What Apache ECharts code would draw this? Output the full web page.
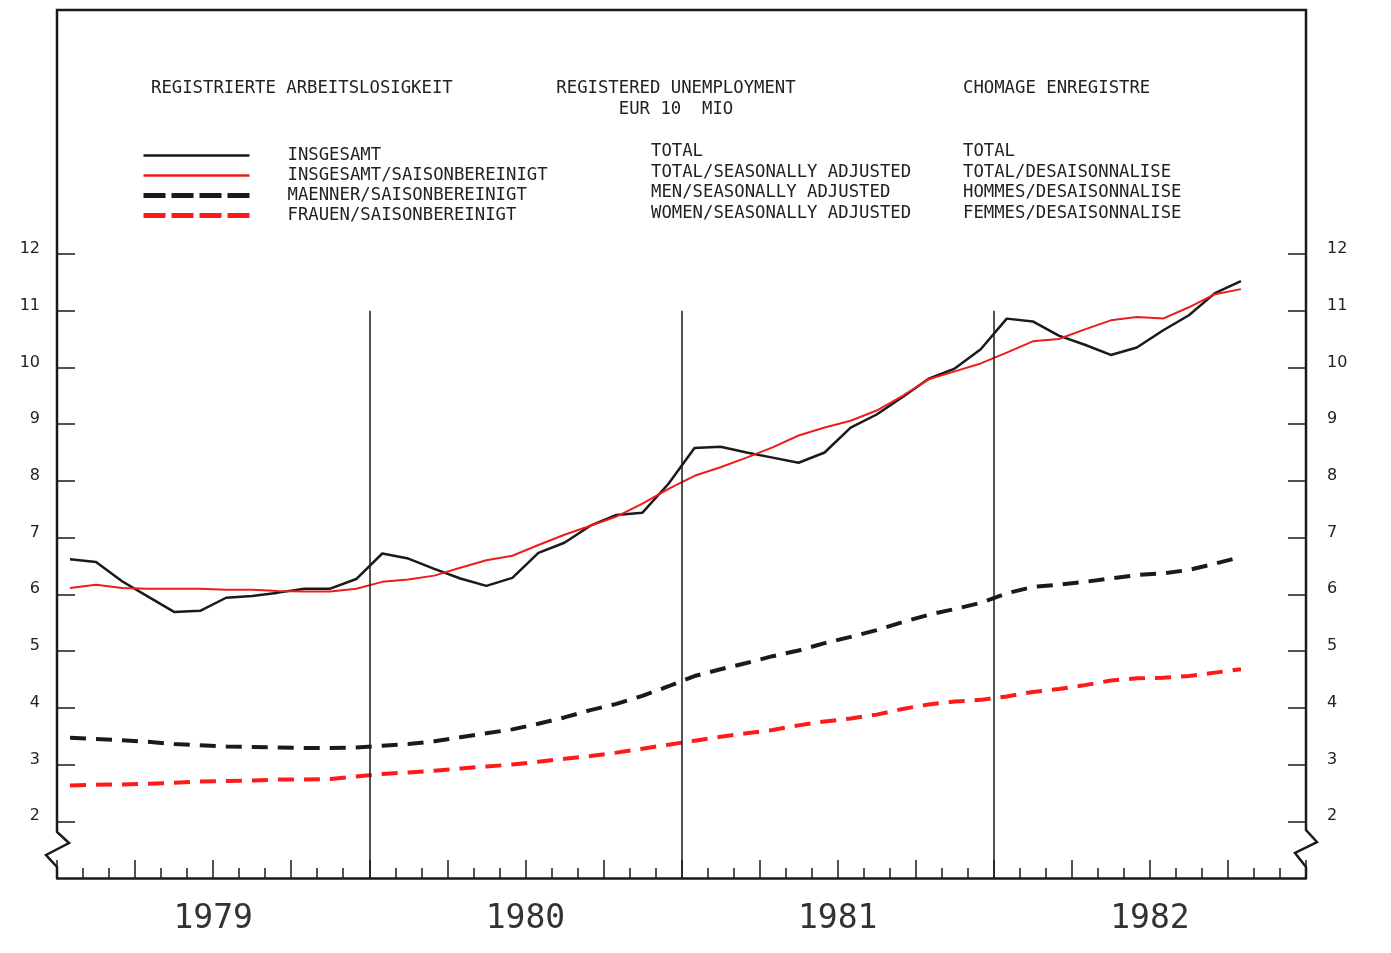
<!DOCTYPE html>
<html>
<head>
<meta charset="utf-8">
<script src="https://cdn.jsdelivr.net/npm/echarts@6/dist/echarts.min.js"></script>
<style>
  html, body { margin: 0; padding: 0; background: #fff; }
  #chart { width: 1391px; height: 953px; }
</style>
</head>
<body>
<div id="chart"></div>
<script>
// Registered unemployment EUR 10, monthly Jan 1979 – Oct 1982 (millions)

const yearLabels = ['1979', '1980', '1981', '1982'];
const yearBoundaries = [12, 24, 36];   // month index where a new year starts
const yTicks = [2, 3, 4, 5, 6, 7, 8, 9, 10, 11, 12];

const total = [6.62, 6.57, 6.23, 5.96, 5.69, 5.71, 5.94, 5.97, 6.03, 6.10, 6.10, 6.27,
  6.72, 6.63, 6.45, 6.28, 6.15, 6.29, 6.73, 6.91, 7.21, 7.40, 7.44, 7.95,
  8.58, 8.60, 8.50, 8.41, 8.32, 8.50, 8.94, 9.17, 9.48, 9.80, 9.98, 10.32,
  10.86, 10.81, 10.56, 10.40, 10.22, 10.35, 10.65, 10.92, 11.31, 11.52];

const totalSa = [6.11, 6.17, 6.11, 6.10, 6.10, 6.10, 6.08, 6.08, 6.06, 6.05, 6.05, 6.10,
  6.22, 6.26, 6.33, 6.47, 6.60, 6.68, 6.87, 7.05, 7.21, 7.37, 7.60, 7.86,
  8.09, 8.24, 8.41, 8.59, 8.80, 8.94, 9.06, 9.24, 9.50, 9.79, 9.93, 10.07,
  10.26, 10.46, 10.50, 10.67, 10.83, 10.89, 10.86, 11.06, 11.29, 11.38];

const menSa = [3.47, 3.45, 3.43, 3.40, 3.36, 3.34, 3.32, 3.31, 3.30, 3.29, 3.29, 3.30,
  3.33, 3.36, 3.41, 3.48, 3.55, 3.62, 3.72, 3.83, 3.96, 4.07, 4.21, 4.38,
  4.56, 4.68, 4.79, 4.91, 5.01, 5.14, 5.25, 5.37, 5.51, 5.64, 5.74, 5.85,
  6.02, 6.13, 6.17, 6.22, 6.28, 6.34, 6.37, 6.43, 6.54, 6.66];

const womenSa = [2.63, 2.645, 2.65, 2.66, 2.68, 2.70, 2.71, 2.72, 2.735, 2.735, 2.745, 2.79,
  2.835, 2.86, 2.89, 2.93, 2.965, 3.00, 3.05, 3.10, 3.15, 3.21, 3.28, 3.35,
  3.42, 3.49, 3.55, 3.61, 3.69, 3.76, 3.81, 3.88, 3.98, 4.06, 4.11, 4.14,
  4.20, 4.28, 4.33, 4.40, 4.48, 4.52, 4.53, 4.56, 4.62, 4.68];

const namesDe = ['INSGESAMT', 'INSGESAMT/SAISONBEREINIGT', 'MAENNER/SAISONBEREINIGT', 'FRAUEN/SAISONBEREINIGT'];
const namesEn = ['TOTAL', 'TOTAL/SEASONALLY ADJUSTED', 'MEN/SEASONALLY ADJUSTED', 'WOMEN/SEASONALLY ADJUSTED'];
const namesFr = ['TOTAL', 'TOTAL/DESAISONNALISE', 'HOMMES/DESAISONNALISE', 'FEMMES/DESAISONNALISE'];

// month centres on a 0..48 value axis
const pts = (arr) => arr.map((v, i) => [i + 0.5, v]);

const INK = '#1a1a1a';
const RED = '#ee1c1c';
const RED2 = '#ff1a1a';
const FONT = '"DejaVu Sans Mono", monospace';

const text = (t, x, y, align) => ({
  type: 'text', silent: true,
  style: { text: t, x, y, align: align || 'left', verticalAlign: 'middle',
    fill: '#222', font: '17.3px ' + FONT }
});

const rowsY = [152, 173, 193, 214];

const graphics = [
  { type: 'polyline', silent: true,
    shape: { points: [[57, 878], [57, 867], [46, 855], [69, 843], [57, 832], [57, 10],
      [1306, 10], [1306, 830], [1317, 842], [1295, 853], [1306, 867], [1306, 878]] },
    style: { stroke: INK, lineWidth: 2.5, fill: null } },
  text('REGISTRIERTE ARBEITSLOSIGKEIT', 151, 89),
  text('REGISTERED UNEMPLOYMENT', 676, 89, 'center'),
  text('EUR 10  MIO', 676, 110, 'center'),
  text('CHOMAGE ENREGISTRE', 963, 89),
  ...namesEn.map((t, i) => text(t, 651, rowsY[i])),
  ...namesFr.map((t, i) => text(t, 963, rowsY[i])),
];

const chart = echarts.init(document.getElementById('chart'));

const yAxisBase = {
  type: 'value', min: 1, max: 16.3, interval: 1,
  axisLine: { show: false },
  splitLine: { show: false },
  axisTick: { inside: true, length: 18, customValues: yTicks, lineStyle: { color: INK, width: 1.5 } },
};
const yLabel = { customValues: yTicks, fontFamily: '"DejaVu Sans"', fontSize: 16, color: '#222',
  verticalAlign: 'bottom', lineHeight: 10 };

chart.setOption({
  animation: false,
  backgroundColor: '#fff',
  grid: { left: 57, right: 85, top: 10, bottom: 75 },
  legend: {
    orient: 'vertical', left: 136, top: 142,
    itemWidth: 106, itemHeight: 14, itemGap: 3,
    selectedMode: false,
    itemStyle: { opacity: 0 },
    textStyle: { fontFamily: FONT, fontSize: 17.3, lineHeight: 14, color: '#222', padding: [0, 0, 0, 33] },
    data: [
      { name: namesDe[0], lineStyle: { width: 2.5 } },
      { name: namesDe[1], lineStyle: { width: 2.5 } },
      { name: namesDe[2], lineStyle: { type: [22, 6], width: 5 } },
      { name: namesDe[3], lineStyle: { type: [22, 6], width: 5 } },
    ],
  },
  xAxis: [
    { type: 'value', min: 0, max: 48, interval: 3,
      axisLine: { lineStyle: { color: INK, width: 2.5 } },
      axisTick: { inside: true, length: 18, lineStyle: { color: INK, width: 1.5 } },
      minorTick: { show: true, splitNumber: 3, length: 10, lineStyle: { color: INK, width: 1.5 } },
      axisLabel: { show: false },
      splitLine: { show: false } },
    { type: 'category', data: yearLabels, position: 'bottom',
      axisLine: { show: false }, axisTick: { show: false },
      axisLabel: { fontFamily: FONT, fontSize: 33, color: '#333', margin: 25 } },
  ],
  yAxis: [
    { ...yAxisBase, position: 'left', axisLabel: { ...yLabel, margin: 17 } },
    { ...yAxisBase, position: 'right', axisLabel: { ...yLabel, margin: 21 } },
  ],
  series: [
    { name: namesDe[2], type: 'line', data: pts(menSa), symbol: 'none',
      lineStyle: { color: INK, width: 4, type: [16, 10] }, itemStyle: { color: INK } },
    { name: namesDe[3], type: 'line', data: pts(womenSa), symbol: 'none',
      lineStyle: { color: RED2, width: 4, type: [16, 10] }, itemStyle: { color: RED2 } },
    { name: namesDe[0], type: 'line', data: pts(total), symbol: 'none',
      lineStyle: { color: INK, width: 2.5 }, itemStyle: { color: INK },
      markLine: {
        silent: true, symbol: 'none', label: { show: false }, emphasis: { disabled: true },
        lineStyle: { color: INK, width: 1.5, type: 'solid' },
        data: yearBoundaries.map(b => [{ coord: [b, 1] }, { coord: [b, 11] }]),
      } },
    { name: namesDe[1], type: 'line', data: pts(totalSa), symbol: 'none',
      lineStyle: { color: RED, width: 2 }, itemStyle: { color: RED } },
  ],
  graphic: graphics,
});
</script>
</body>
</html>
